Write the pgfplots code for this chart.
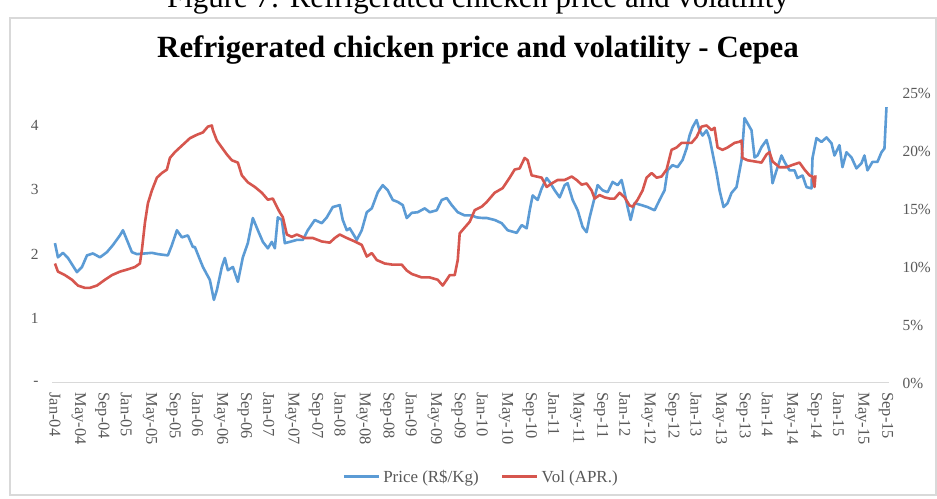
\documentclass[border=0pt]{standalone}
\usepackage{fontspec}
\setmainfont{Liberation Serif}
\usepackage{pgfplots}
\usepackage{pgfplotstable}
\pgfplotsset{compat=1.18}
\definecolor{priceblue}{RGB}{91,155,213}
\definecolor{volred}{RGB}{214,86,78}
\definecolor{tickgray}{RGB}{89,89,89}
\definecolor{axisgray}{RGB}{217,217,217}

% month index since Jan-2004, price (R$/kg)
\pgfplotstableread{
m p
0.00 2.17
0.50 1.95
1.35 2.02
2.19 1.94
3.70 1.72
4.55 1.80
5.39 1.98
6.40 2.01
7.58 1.95
8.75 2.03
9.76 2.14
10.94 2.29
11.45 2.37
12.12 2.22
12.96 2.03
13.80 2.00
15.15 2.01
16.33 2.02
17.34 2.00
19.02 1.98
19.70 2.14
20.54 2.37
21.38 2.26
22.39 2.29
23.23 2.11
23.57 2.11
24.92 1.80
26.09 1.60
26.77 1.29
27.27 1.44
28.11 1.80
28.62 1.94
29.12 1.75
29.97 1.80
30.81 1.57
31.65 1.95
32.49 2.17
33.33 2.56
34.18 2.37
35.02 2.19
35.86 2.09
36.53 2.19
37.04 2.09
37.54 2.57
38.22 2.53
38.72 2.17
39.56 2.19
40.74 2.22
41.75 2.22
42.59 2.37
43.77 2.53
44.95 2.48
45.79 2.57
46.80 2.73
47.98 2.76
48.48 2.53
49.16 2.37
49.66 2.40
50.84 2.22
51.68 2.37
52.53 2.65
53.37 2.71
54.38 2.96
55.22 3.07
56.06 2.99
56.90 2.84
57.74 2.81
58.59 2.76
59.26 2.56
60.10 2.64
61.11 2.65
62.29 2.71
63.13 2.65
64.31 2.68
65.15 2.84
65.99 2.87
66.84 2.76
67.85 2.65
69.02 2.60
70.20 2.60
71.04 2.57
72.05 2.56
72.73 2.56
74.07 2.53
75.25 2.48
76.26 2.37
77.78 2.33
78.62 2.45
79.46 2.40
79.97 2.68
80.47 2.91
81.31 2.84
81.99 3.02
82.83 3.18
83.33 3.12
84.18 2.99
85.02 2.88
85.86 3.07
86.36 3.10
87.21 2.84
88.05 2.68
88.89 2.42
89.56 2.34
90.07 2.57
90.91 2.88
91.41 3.07
92.26 2.99
93.10 2.96
93.94 3.12
94.78 3.07
95.45 3.15
95.96 2.95
96.46 2.73
96.97 2.53
97.64 2.79
98.82 2.76
99.83 2.73
101.01 2.68
101.85 2.84
102.69 2.99
103.20 3.30
104.04 3.38
104.88 3.35
105.72 3.46
106.40 3.64
106.90 3.84
107.41 3.97
108.08 4.08
108.59 3.92
109.09 3.84
109.76 3.92
110.27 3.80
110.77 3.57
111.45 3.26
111.95 2.99
112.63 2.73
113.30 2.79
113.97 2.95
114.81 3.04
115.66 3.46
116.16 4.11
116.67 4.03
117.34 3.92
117.85 3.50
118.35 3.53
119.02 3.66
119.87 3.77
120.37 3.60
120.88 3.10
121.55 3.30
122.39 3.53
122.90 3.43
123.74 3.30
124.58 3.30
125.08 3.18
125.93 3.22
126.60 3.04
127.44 3.02
127.61 3.49
128.28 3.80
129.12 3.74
129.97 3.81
130.81 3.72
131.31 3.53
132.15 3.69
132.66 3.35
133.33 3.58
134.18 3.50
135.02 3.33
135.86 3.41
136.36 3.53
136.87 3.30
137.71 3.43
138.55 3.43
139.23 3.58
139.73 3.64
140.07 4.28
}\pricetable

% month index since Jan-2004, annualised volatility (%)
\pgfplotstableread{
m v
0.00 10.3
0.50 9.6
1.68 9.3
2.86 8.9
3.87 8.4
5.05 8.2
5.89 8.2
7.07 8.4
8.42 8.9
9.60 9.3
10.94 9.6
12.29 9.8
13.47 10.0
14.31 10.3
14.65 11.5
15.15 13.8
15.66 15.5
16.33 16.6
17.17 17.7
18.01 18.1
18.86 18.4
19.36 19.4
20.20 19.9
21.04 20.3
21.89 20.7
22.73 21.1
23.91 21.4
24.92 21.6
25.76 22.1
26.43 22.2
26.60 21.8
27.27 20.9
28.11 20.3
28.96 19.7
29.80 19.2
30.81 19.0
31.48 17.9
32.49 17.3
33.67 16.9
34.85 16.4
35.86 15.8
36.70 15.9
37.37 15.2
37.88 14.7
38.38 14.3
39.06 12.8
39.90 12.6
40.74 12.8
42.09 12.5
43.43 12.5
44.95 12.2
46.30 12.1
47.14 12.5
47.98 12.8
49.16 12.5
50.51 12.2
51.68 11.9
52.53 10.9
53.37 11.2
54.21 10.6
55.56 10.3
56.90 10.2
58.42 10.2
59.26 9.7
60.10 9.4
61.78 9.1
63.13 9.1
64.48 8.9
65.32 8.4
65.99 8.9
66.50 9.3
67.34 9.3
67.85 10.6
68.18 12.9
69.02 13.4
69.87 13.9
70.71 14.9
71.89 15.2
72.73 15.6
74.07 16.4
75.42 16.8
76.60 17.7
77.44 18.4
78.28 18.5
79.12 19.4
79.63 19.2
80.30 17.9
81.14 17.8
81.99 17.7
82.83 16.9
83.67 17.2
84.68 17.5
85.86 17.5
87.04 17.8
87.88 17.5
88.72 17.1
89.56 17.2
90.40 16.6
90.91 15.9
91.75 16.2
92.59 16.0
93.43 15.9
94.28 15.9
95.12 16.4
95.96 16.0
96.80 15.3
97.31 15.2
98.15 15.8
98.99 16.6
99.66 17.7
100.51 18.1
101.35 17.7
102.19 17.8
103.03 18.4
103.87 20.1
104.71 20.3
105.56 20.7
106.40 20.7
107.24 20.7
108.08 21.2
108.92 22.1
109.76 22.2
110.61 21.8
111.11 22.0
111.62 20.3
112.46 20.1
113.30 20.3
114.48 20.7
115.32 20.8
115.66 20.9
115.82 19.4
116.67 19.2
117.85 19.1
119.02 19.0
119.87 19.7
120.37 19.9
120.88 19.1
122.05 18.6
123.23 18.6
124.24 18.8
125.42 19.0
126.26 18.4
127.10 17.9
127.61 17.8
127.95 16.9
128.11 17.9
}\voltable

\begin{document}
\begin{tikzpicture}[x=1bp,y=1bp]
\useasboundingbox (0,0) rectangle (937,499);
\fill[white] (0,0) rectangle (937,499);
\draw[axisgray, line width=1.2bp] (10,4) rectangle (936,481);
\node[font=\fontsize{31}{36}\selectfont, anchor=base] at (478,491) {Figure 7: Refrigerated chicken price and volatility};
\node[font=\fontsize{31}{36}\selectfont\bfseries, anchor=base] at (478,441) {Refrigerated chicken price and volatility - Cepea};

\begin{axis}[
  at={(52bp,116bp)}, anchor=south west,
  width=837bp, height=290bp, scale only axis,
  xmin=-0.5, xmax=140.5, ymin=0, ymax=4.5,
  axis x line*=bottom, axis y line*=left,
  x axis line style={axisgray, line width=1bp, -},
  y axis line style={draw=none},
  major tick length=0pt,
  xtick={0,4,...,140},
  xticklabels={Jan-04,May-04,Sep-04,Jan-05,May-05,Sep-05,Jan-06,May-06,Sep-06,Jan-07,May-07,Sep-07,Jan-08,May-08,Sep-08,Jan-09,May-09,Sep-09,Jan-10,May-10,Sep-10,Jan-11,May-11,Sep-11,Jan-12,May-12,Sep-12,Jan-13,May-13,Sep-13,Jan-14,May-14,Sep-14,Jan-15,May-15,Sep-15},
  xticklabel style={rotate=-90, anchor=west, font=\fontsize{16.5}{18}\selectfont, text=tickgray, xshift=6bp},
  ytick={0,1,2,3,4},
  yticklabels={-,1,2,3,4},
  yticklabel style={anchor=east, font=\fontsize{15.5}{17}\selectfont, text=tickgray, xshift=-10bp},
  clip=false,
]
\addplot[priceblue, line width=2.6bp, line join=round] table[x=m, y=p] {\pricetable};
\end{axis}

\begin{axis}[
  at={(52bp,116bp)}, anchor=south west,
  width=837bp, height=290bp, scale only axis,
  xmin=-0.5, xmax=140.5, ymin=0, ymax=25,
  axis y line*=right, hide x axis,
  y axis line style={draw=none},
  major tick length=0pt,
  ytick={0,5,10,15,20,25},
  yticklabels={0\%,5\%,10\%,15\%,20\%,25\%},
  yticklabel style={anchor=west, font=\fontsize{15.5}{17}\selectfont, text=tickgray, xshift=10bp},
  legend columns=2,
  legend style={at={(0.5125,-0.324)}, anchor=center, draw=none, fill=none,
    font=\fontsize{17}{19}\selectfont, text=tickgray,
    /tikz/every odd column/.append style={column sep=1bp},
    /tikz/every even column/.append style={column sep=20bp}},
  legend image code/.code={\draw[#1, line width=3bp] (0bp,0bp) -- (35bp,0bp);},
  clip=false,
]
\addlegendimage{priceblue}
\addlegendentry{Price (R\$/Kg)}
\addplot[volred, line width=2.6bp, line join=round] table[x=m, y=v] {\voltable};
\addlegendentry{Vol (APR.)}
\end{axis}
\end{tikzpicture}
\end{document}
